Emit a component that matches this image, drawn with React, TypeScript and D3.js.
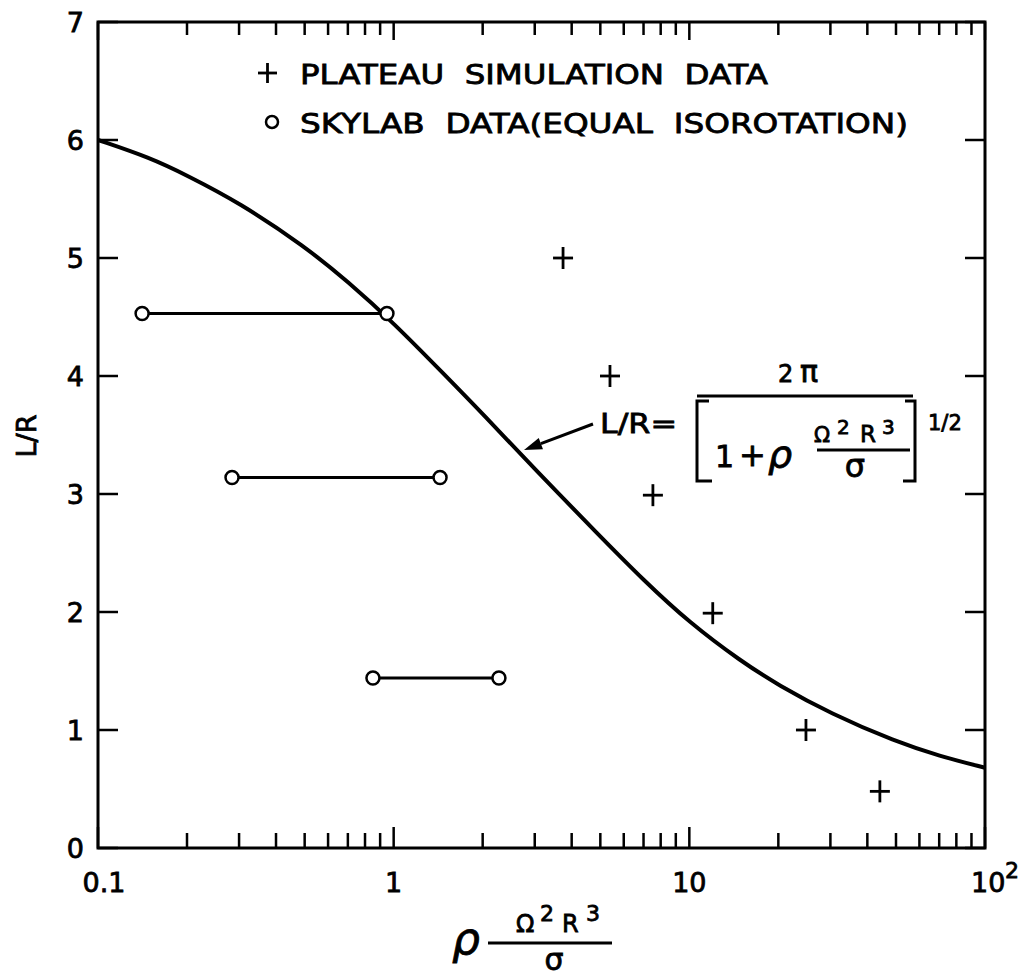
import React from 'react';
import * as d3 from 'd3';

// Theoretical curve
const curveX = [0.1, 0.15, 0.2, 0.3, 0.5, 0.7, 1, 1.5, 2, 3, 5, 7, 10, 15, 20, 30, 50, 70, 100];
const curveY = [6.0, 5.85, 5.7, 5.47, 5.1, 4.8, 4.45, 4.0, 3.68, 3.21, 2.64, 2.27, 1.91, 1.58, 1.38, 1.14, 0.9, 0.78, 0.68];

// Plateau simulation data (+)
const plateauX = [3.74, 5.39, 7.53, 12.0, 24.8, 44.1];
const plateauY = [5.0, 4.0, 2.99, 1.99, 1.0, 0.48];

// Skylab data (o), horizontal ranges
const skylabLow = [0.141, 0.284, 0.851];
const skylabHigh = [0.949, 1.435, 2.27];
const skylabY = [4.53, 3.14, 1.44];

const yTicks = [0, 1, 2, 3, 4, 5, 6, 7];
const xLabels = [
  { v: 0.1, t: '0.1' },
  { v: 1, t: '1' },
  { v: 10, t: '10' },
];

const FONT = '"DejaVu Sans", sans-serif';
const TX = { fontFamily: FONT, fill: '#000', stroke: '#000', strokeWidth: 0.8 } as const;

export default function App() {
  const L = 98, R = 985, T = 22, B = 848;
  const x = d3.scaleLog().domain([0.1, 100]).range([L, R]);
  const y = d3.scaleLinear().domain([0, 7]).range([B, T]);

  const curvePts: [number, number][] = curveX.map((v, i) => [x(v), y(curveY[i])]);
  const line = d3.line().curve(d3.curveBasis)(curvePts) || '';

  const xt = x.ticks();
  const isMajor = (v: number) => Math.abs(Math.log10(v) - Math.round(Math.log10(v))) < 1e-6;

  // arrow
  const ax0 = 593, ay0 = 424, ax1 = 524, ay1 = 450;
  const dx = ax1 - ax0, dy = ay1 - ay0;
  const len = Math.hypot(dx, dy);
  const ux = dx / len, uy = dy / len;
  const hl = 18, hw = 6;
  const bx = ax1 - ux * hl, by = ay1 - uy * hl;
  const head = `${ax1},${ay1} ${bx - uy * hw},${by + ux * hw} ${bx + uy * hw},${by - ux * hw}`;

  return (
    <div style={{ position: 'absolute', left: 0, top: 0 }}>
      <svg width={1025} height={978} viewBox="0 0 1025 978" style={{ display: 'block', background: '#fff' }}>
        <rect x={0} y={0} width={1025} height={978} fill="#fff" />
        {/* frame */}
        <rect x={L} y={T} width={R - L} height={B - T} fill="none" stroke="#000" strokeWidth={3} />

        {/* x ticks bottom and top */}
        {xt.map((v, i) => {
          const major = isMajor(v);
          const lb = major ? 21 : 15;
          const lt = major ? 18 : 13;
          return (
            <g key={'xt' + i}>
              <line x1={x(v)} x2={x(v)} y1={B} y2={B - lb} stroke="#000" strokeWidth={2.5} />
              <line x1={x(v)} x2={x(v)} y1={T} y2={T + lt} stroke="#000" strokeWidth={2.5} />
            </g>
          );
        })}

        {/* y ticks left and right */}
        {yTicks.map((v) => (
          <g key={'yt' + v}>
            <line x1={L} x2={L + 20} y1={y(v)} y2={y(v)} stroke="#000" strokeWidth={2.5} />
            <line x1={R} x2={R - 20} y1={y(v)} y2={y(v)} stroke="#000" strokeWidth={2.5} />
            <text x={84} y={y(v)} dy="0.36em" textAnchor="end" fontSize={27} {...TX}>{v}</text>
          </g>
        ))}

        {/* x tick labels */}
        {xLabels.map((d) => (
          <text key={d.t} x={x(d.v) + (d.v === 0.1 ? 6 : 0)} y={892} textAnchor="middle" fontSize={27} {...TX}>{d.t}</text>
        ))}
        <text x={x(100) - 14} y={892} fontSize={27} {...TX}>10</text>
        <text x={x(100) + 20} y={878} fontSize={22} {...TX}>2</text>

        {/* y label */}
        <text transform="translate(36,436) rotate(-90)" textAnchor="middle" fontSize={27} {...TX}>L/R</text>

        {/* x label */}
        <text x={452} y={954} fontSize={44} fontStyle="italic" {...TX}>ρ</text>
        <text x={516} y={932} fontSize={24} {...TX}>Ω</text>
        <text x={540} y={921} fontSize={22} {...TX}>2</text>
        <text x={562} y={932} fontSize={24} {...TX}>R</text>
        <text x={586} y={921} fontSize={22} {...TX}>3</text>
        <line x1={488} x2={612} y1={943} y2={943} stroke="#000" strokeWidth={3} />
        <text x={554} y={970} textAnchor="middle" fontSize={30} {...TX}>σ</text>

        {/* curve */}
        <path d={line} fill="none" stroke="#000" strokeWidth={4} />

        {/* skylab data */}
        {skylabY.map((v, i) => (
          <g key={'sk' + i}>
            <line x1={x(skylabLow[i])} x2={x(skylabHigh[i])} y1={y(v)} y2={y(v)} stroke="#000" strokeWidth={3} />
            <circle cx={x(skylabLow[i])} cy={y(v)} r={6.5} fill="#fff" stroke="#000" strokeWidth={2.5} />
            <circle cx={x(skylabHigh[i])} cy={y(v)} r={6.5} fill="#fff" stroke="#000" strokeWidth={2.5} />
          </g>
        ))}

        {/* plateau data */}
        {plateauX.map((v, i) => (
          <g key={'pl' + i} stroke="#000" strokeWidth={2.8}>
            <line x1={x(v) - 10} x2={x(v) + 10} y1={y(plateauY[i])} y2={y(plateauY[i])} />
            <line x1={x(v)} x2={x(v)} y1={y(plateauY[i]) - 11} y2={y(plateauY[i]) + 11} />
          </g>
        ))}

        {/* legend */}
        <g stroke="#000" strokeWidth={2.8}>
          <line x1={258} x2={277} y1={73} y2={73} />
          <line x1={267.5} x2={267.5} y1={63} y2={83} />
        </g>
        <text x={300} y={84} fontSize={27} textLength={468} lengthAdjust="spacingAndGlyphs" style={{ whiteSpace: 'pre' }} {...TX}>PLATEAU  SIMULATION  DATA</text>
        <circle cx={272} cy={122} r={6} fill="#fff" stroke="#000" strokeWidth={2.5} />
        <text x={300} y={133} fontSize={27} textLength={608} lengthAdjust="spacingAndGlyphs" style={{ whiteSpace: 'pre' }} {...TX}>SKYLAB  DATA(EQUAL  ISOROTATION)</text>

        {/* formula annotation */}
        <line x1={ax0} y1={ay0} x2={bx} y2={by} stroke="#000" strokeWidth={3} />
        <polygon points={head} fill="#000" />
        <text x={600} y={433} fontSize={27} textLength={77} lengthAdjust="spacingAndGlyphs" {...TX}>L/R=</text>
        <text x={778} y={382} fontSize={24} {...TX}>2</text>
        <text x={800} y={382} fontSize={30} {...TX}>π</text>
        <line x1={697} x2={913} y1={396} y2={396} stroke="#000" strokeWidth={3} />
        <polyline points="709,401 697,401 697,481 712,481" fill="none" stroke="#000" strokeWidth={3} />
        <polyline points="905,401 915,401 915,481 903,481" fill="none" stroke="#000" strokeWidth={3} />
        <text x={928} y={430} fontSize={21} {...TX}>1/2</text>
        <text x={715} y={467} fontSize={30} {...TX}>1</text>
        <text x={739} y={466} fontSize={32} {...TX}>+</text>
        <text x={768} y={467} fontSize={38} fontStyle="italic" {...TX}>ρ</text>
        <text x={814} y={442} fontSize={21} {...TX}>Ω</text>
        <text x={837} y={434} fontSize={20} {...TX}>2</text>
        <text x={860} y={442} fontSize={23} {...TX}>R</text>
        <text x={882} y={434} fontSize={20} {...TX}>3</text>
        <line x1={817} x2={910} y1={450} y2={450} stroke="#000" strokeWidth={3} />
        <text x={855} y={477} textAnchor="middle" fontSize={32} {...TX}>σ</text>
      </svg>
    </div>
  );
}
